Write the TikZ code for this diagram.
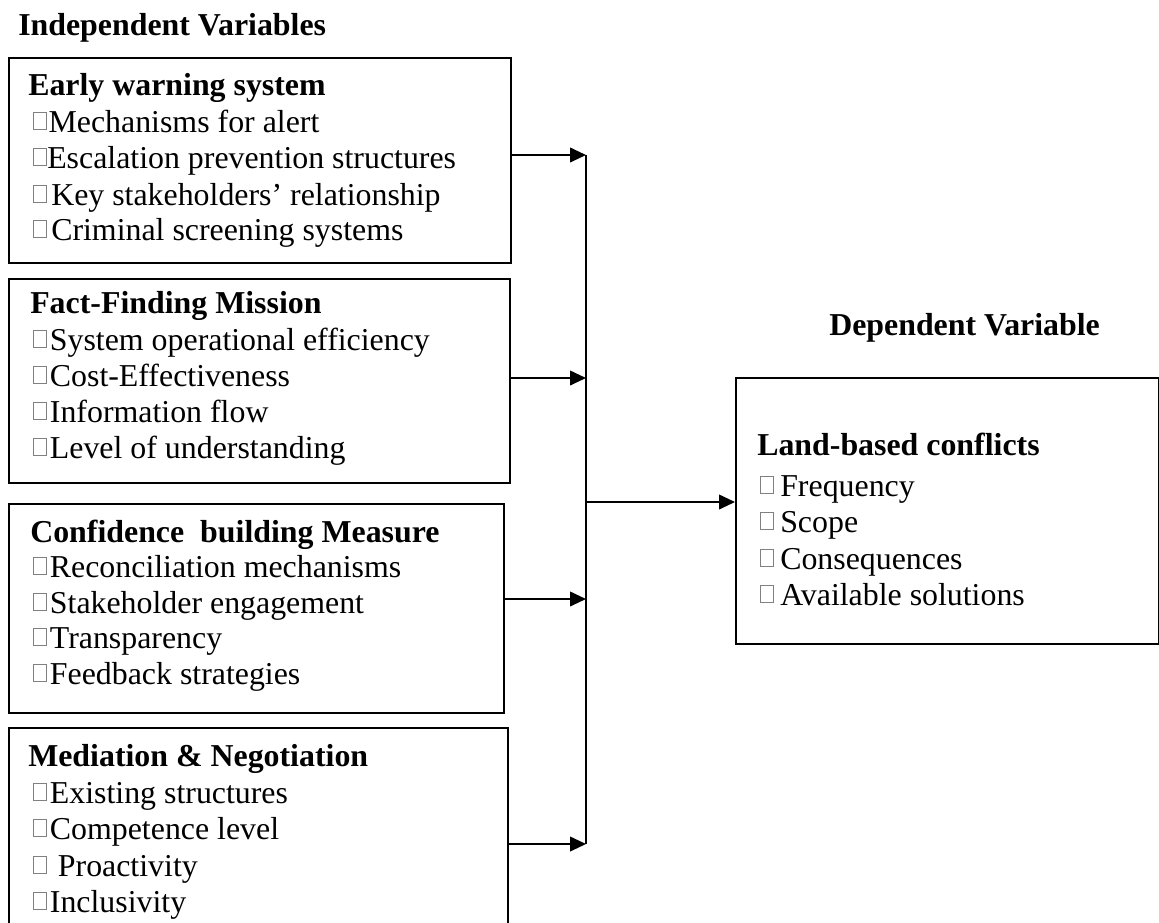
\documentclass[tikz,border=0pt]{standalone}
\usepackage{fontspec}
\setmainfont{Liberation Serif}
\usetikzlibrary{arrows.meta}
\newcommand\sqmark{{\color{gray}\setlength\fboxsep{0pt}\setlength\fboxrule{0.6pt}\raisebox{2.2pt}{\fbox{\rule{0pt}{12pt}\hspace{9.3pt}}}}}
\tikzset{
  box/.style={draw, line width=1.4pt, inner sep=0pt, anchor=north west},
  txt/.style={anchor=base west, inner sep=0pt, font=\fontsize{23.9}{28}\selectfont},
  ttl/.style={txt, font=\fontsize{23.9}{28}\selectfont\bfseries},
  conn/.style={line width=1.4pt},
  arr/.style={line width=1.4pt, -{Triangle[length=12pt,width=11pt]}}
}
\begin{document}
\begin{tikzpicture}[x=0.75pt,y=-0.75pt]
\useasboundingbox (0,0) rectangle (1159,922);
\clip (0,0) rectangle (1159,922);
% titles
\node[ttl] (tin) at (18,35) {Independent Variables};
\node[ttl] (tdep) at (829,335) {Dependent Variable};
% boxes
\node[box, minimum width=502*0.75pt, minimum height=205*0.75pt] (b1) at (8,57) {};
\node[box, minimum width=501*0.75pt, minimum height=204*0.75pt] (b2) at (8,278) {};
\node[box, minimum width=495*0.75pt, minimum height=209*0.75pt] (b3) at (8,503) {};
\node[box, minimum width=499*0.75pt, minimum height=240*0.75pt] (b4) at (8,727) {};
\node[box, minimum width=423*0.75pt, minimum height=266*0.75pt] (dep) at (735,377) {};
% box 1
\node[ttl] (b1t) at (28,95) {Early warning system};
\node[txt] (b1a) at (33,132) {\sqmark\hspace{1pt}Mechanisms for alert};
\node[txt] (b1b) at (33,168) {\sqmark Escalation prevention structures};
\node[txt] (b1c) at (33,205) {\sqmark\hspace{3pt}Key stakeholders’ relationship};
\node[txt] (b1d) at (33,240) {\sqmark\hspace{3pt}Criminal screening systems};
% box 2
\node[ttl] (b2t) at (30,313) {Fact-Finding Mission};
\node[txt] (b2a) at (33,350) {\sqmark\hspace{2pt}System operational efficiency};
\node[txt] (b2b) at (33,386) {\sqmark\hspace{2pt}Cost-Effectiveness};
\node[txt] (b2c) at (33,422) {\sqmark\hspace{2pt}Information flow};
\node[txt] (b2d) at (33,458) {\sqmark\hspace{2pt}Level of understanding};
% box 3
\node[ttl] (b3t) at (30,542) {Confidence\ \ building Measure};
\node[txt] (b3a) at (33,577) {\sqmark\hspace{2pt}Reconciliation mechanisms};
\node[txt] (b3b) at (33,613) {\sqmark\hspace{2pt}Stakeholder engagement};
\node[txt] (b3c) at (33,648) {\sqmark\hspace{2pt}Transparency};
\node[txt] (b3d) at (33,684) {\sqmark\hspace{2pt}Feedback strategies};
% box 4
\node[ttl] (b4t) at (28,766) {Mediation \& Negotiation};
\node[txt] (b4a) at (33,803) {\sqmark\hspace{2pt}Existing structures};
\node[txt] (b4b) at (33,839) {\sqmark\hspace{2pt}Competence level};
\node[txt] (b4c) at (33,876) {\sqmark\hspace{8pt}Proactivity};
\node[txt] (b4d) at (33,912) {\sqmark\hspace{2pt}Inclusivity};
% dependent box
\node[ttl] (dt) at (757,455) {Land-based conflicts};
\node[txt] (da) at (760,496) {\sqmark\hspace{4.5pt}Frequency};
\node[txt] (db) at (760,532) {\sqmark\hspace{4.5pt}Scope};
\node[txt] (dc) at (760,569) {\sqmark\hspace{4.5pt}Consequences};
\node[txt] (dd) at (760,605) {\sqmark\hspace{4.5pt}Available solutions};
% junction line
\coordinate (j1) at (586,155);
\coordinate (j2) at (586,378);
\coordinate (j3) at (586,599);
\coordinate (j4) at (586,844);
\coordinate (jm) at (586,502);
\draw[conn] (j1) -- (j4);
\draw[arr] (b1.east |- j1) -- (j1);
\draw[arr] (b2.east |- j2) -- (j2);
\draw[arr] (b3.east |- j3) -- (j3);
\draw[arr] (b4.east |- j4) -- (j4);
\draw[arr] (jm) -- (dep.west |- jm);
\end{tikzpicture}
\end{document}
